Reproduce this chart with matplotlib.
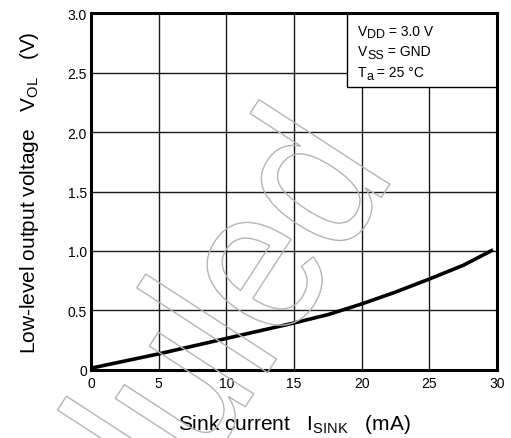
"""Low-level output voltage vs sink current (datasheet-style characteristic)."""
import matplotlib

matplotlib.use("Agg")
import matplotlib.pyplot as plt  # noqa: E402
from matplotlib.font_manager import FontProperties  # noqa: E402
from matplotlib.patches import PathPatch, Rectangle  # noqa: E402
from matplotlib.textpath import TextPath  # noqa: E402
from matplotlib.transforms import Affine2D  # noqa: E402

# sink current (mA) and VOL (V)
i_sink = [0, 2.5, 5, 7.5, 10, 12.5, 15, 17.5, 20, 22.5, 25, 27.5, 29.7]
v_ol = [0.015, 0.075, 0.135, 0.2, 0.265, 0.33, 0.395, 0.465, 0.555, 0.655,
        0.765, 0.88, 1.01]

x_ticks = [0, 5, 10, 15, 20, 25, 30]
x_ticklabels = ["0", "5", "10", "15", "20", "25", "30"]
y_ticks = [0, 0.5, 1.0, 1.5, 2.0, 2.5, 3.0]
y_ticklabels = ["0", "0.5", "1.0", "1.5", "2.0", "2.5", "3.0"]

# measurement conditions: symbol, subscript, rest of the line
cond_sym = ["V", "V", "T"]
cond_sub = ["DD", "SS", "a"]
cond_rest = [" = 3.0 V", " = GND", " = 25 °C"]
watermark = "Scheduled"

plt.rcParams["font.family"] = ["Liberation Sans", "DejaVu Sans"]

fig = plt.figure(figsize=(5.11, 4.39), dpi=100)
ax = fig.add_axes([0.178, 0.155, 0.795, 0.813])

ax.plot(i_sink, v_ol, color="black", lw=2.6, solid_capstyle="butt", zorder=4)

ax.set_xlim(0, 30)
ax.set_ylim(0, 3.0)
ax.set_xticks(x_ticks)
ax.set_xticklabels(x_ticklabels)
ax.set_yticks(y_ticks)
ax.set_yticklabels(y_ticklabels)
ax.tick_params(length=0, labelsize=10, colors="black")
ax.tick_params(axis="x", pad=4.5)
ax.tick_params(axis="y", pad=3)
ax.grid(True, color="#1a1a1a", lw=1.0)
ax.set_axisbelow(True)
for s in ax.spines.values():
    s.set_linewidth(2.2)
    s.set_zorder(6)

# conditions box in the top-right corner
ax.add_patch(Rectangle((18.92, 2.378), 11.08, 0.622, facecolor="white",
                       edgecolor="black", lw=1.0, zorder=5))
for k in range(len(cond_sym)):
    t1 = ax.text(19.7, 2.85 - k * 0.173, cond_sym[k], fontsize=10,
                 va="center", ha="left", zorder=7)
    t2 = ax.annotate(cond_sub[k], xy=(1, 0), xycoords=t1, xytext=(0, -1.8),
                     textcoords="offset points", fontsize=9, va="bottom",
                     ha="left", zorder=7)
    ax.annotate(cond_rest[k], xy=(1, 0), xycoords=t2, xytext=(0, 1.8),
                textcoords="offset points", fontsize=10, va="bottom",
                ha="left", zorder=7)

ax.set_xlabel(r"Sink current   $\mathregular{I_{SINK}}$   (mA)", fontsize=15,
              labelpad=16)
ax.set_ylabel(r"Low-level output voltage   $\mathregular{V_{OL}}$   (V)",
              fontsize=15, labelpad=19)

# outlined diagonal watermark
tp = TextPath((0, 0), watermark, size=2.15,
              prop=FontProperties(family="Liberation Sans"))
w = tp.get_extents().x1
tr = (Affine2D().translate(-w, 0).scale(0.87, 1).rotate_deg(57)
      .translate(3.9, 2.54))
fig.add_artist(PathPatch(tp, transform=tr + fig.dpi_scale_trans,
                         facecolor="none", edgecolor="#b4b4b4", lw=1.0,
                         zorder=10))

fig.savefig("out.png", dpi=100)
